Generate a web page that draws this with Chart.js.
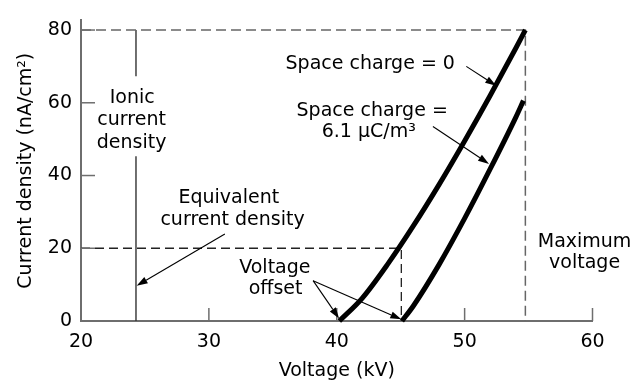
<!DOCTYPE html>
<html><head><meta charset="utf-8">
<script src="https://cdn.jsdelivr.net/npm/chart.js@4/dist/chart.umd.min.js"></script>
<style>html,body{margin:0;padding:0;background:#fff}</style>
</head><body>
<canvas id="c" width="638" height="382"></canvas>
<script>
// ---- data ----
const voltageTicks = [20, 30, 40, 50, 60];
const densityTicks = [0, 20, 40, 60, 80];
// Space charge = 0
const vNoCharge = [40.2, 42, 44, 46, 48, 50, 52, 54, 54.75];
const jNoCharge = [0, 6.3, 15.7, 26.2, 37.5, 49.5, 62.0, 75.0, 80];
// Space charge = 6.1 uC/m3
const vCharge = [45.1, 46, 48, 50, 52, 54, 54.6];
const jCharge = [0, 4.2, 15.5, 28.2, 41.8, 56.0, 60.6];
// reference levels
const maxVoltage = 54.75, maxDensity = 80;
const offsetVoltage = 45.05, equivDensity = 20;
const ionicVoltage = 24.3;
const ionicGap = [67.3, 45.3];
// annotation texts: [text, x (kV), baseline (nA/cm2)]
const labelTexts = [
  ['Space charge = 0', 42.62, 69.3],
  ['Space charge =', 42.77, 56.5],
  ['6.1 \u03bcC/m\u00b3', 42.5, 50.6],
  ['Ionic', 24.0, 60.05],
  ['current', 23.96, 53.8],
  ['density', 23.96, 47.5],
  ['Equivalent', 31.56, 32.5],
  ['current density', 31.85, 26.3],
  ['Voltage', 35.16, 13.3],
  ['offset', 35.22, 7.3],
  ['Maximum', 59.38, 20.4],
  ['voltage', 59.38, 14.7]
];
// arrows: [tailX, tailY, tipX, tipY] in data units
const arrowList = [
  [50.13, 70.0, 52.47, 64.7],
  [47.52, 53.5, 51.91, 43.2],
  [31.25, 23.9, 24.35, 9.7],
  [38.15, 11.1, 40.18, 0.7],
  [38.15, 11.1, 45.05, 0.45]
];

const FONT = '"DejaVu Sans", sans-serif';
const pts = (xs, ys) => xs.map((x, i) => ({x, y: ys[i]}));

const overlay = {
  id: 'overlay',
  afterDraw(chart) {
    const ctx = chart.ctx, xs = chart.scales.x, ys = chart.scales.y;
    ctx.save();
    // inward tick marks
    ctx.strokeStyle = '#6e6e6e'; ctx.lineWidth = 1.5;
    voltageTicks.slice(1).forEach(v => {
      const p = xs.getPixelForValue(v);
      ctx.beginPath(); ctx.moveTo(p, ys.bottom); ctx.lineTo(p, ys.bottom - 13); ctx.stroke();
    });
    densityTicks.slice(1).forEach(v => {
      const p = ys.getPixelForValue(v);
      ctx.beginPath(); ctx.moveTo(xs.left, p); ctx.lineTo(xs.left + 14, p); ctx.stroke();
    });
    // arrows
    ctx.strokeStyle = '#000'; ctx.fillStyle = '#000'; ctx.lineWidth = 1.1;
    arrowList.forEach(a => {
      const x0 = xs.getPixelForValue(a[0]), y0 = ys.getPixelForValue(a[1]);
      const x1 = xs.getPixelForValue(a[2]), y1 = ys.getPixelForValue(a[3]);
      const ang = Math.atan2(y1 - y0, x1 - x0), L = 11, W = 3.6;
      const bx = x1 - L * Math.cos(ang), by = y1 - L * Math.sin(ang);
      ctx.beginPath(); ctx.moveTo(x0, y0); ctx.lineTo(bx, by); ctx.stroke();
      ctx.beginPath();
      ctx.moveTo(x1, y1);
      ctx.lineTo(bx + W * Math.sin(ang), by - W * Math.cos(ang));
      ctx.lineTo(bx - W * Math.sin(ang), by + W * Math.cos(ang));
      ctx.closePath(); ctx.fill();
    });
    // texts
    ctx.font = '19px ' + FONT; ctx.textAlign = 'center'; ctx.textBaseline = 'alphabetic';
    labelTexts.forEach(t => {
      ctx.fillText(t[0], xs.getPixelForValue(t[1]), ys.getPixelForValue(t[2]));
    });
    ctx.restore();
  }
};

new Chart(document.getElementById('c'), {
  type: 'scatter',
  data: {
    datasets: [
      {data: pts(vNoCharge, jNoCharge), borderColor: '#000', borderWidth: 5, cubicInterpolationMode: 'monotone'},
      {data: pts(vCharge, jCharge), borderColor: '#000', borderWidth: 5, cubicInterpolationMode: 'monotone'},
      {data: [{x: voltageTicks[0], y: maxDensity}, {x: maxVoltage, y: maxDensity}, {x: maxVoltage, y: 0}],
       borderColor: '#666', borderWidth: 1.5, borderDash: [10, 5]},
      {data: [{x: voltageTicks[0], y: equivDensity}, {x: offsetVoltage, y: equivDensity}, {x: offsetVoltage, y: 0}],
       borderColor: '#222', borderWidth: 1.3, borderDash: [9, 5]},
      {data: [{x: ionicVoltage, y: maxDensity}, {x: ionicVoltage, y: ionicGap[0]}, {x: ionicVoltage, y: null},
              {x: ionicVoltage, y: ionicGap[1]}, {x: ionicVoltage, y: 0}],
       borderColor: '#333', borderWidth: 1.4, spanGaps: false}
    ].map(d => Object.assign({showLine: true, pointRadius: 0, fill: false, clip: false}, d))
  },
  options: {
    responsive: false, animation: false, devicePixelRatio: 1,
    layout: {padding: {left: 0, right: 45.5, top: 9, bottom: 0}},
    plugins: {legend: {display: false}, tooltip: {enabled: false}},
    scales: {
      x: {
        type: 'linear', min: 20, max: 60,
        afterBuildTicks: s => { s.ticks = voltageTicks.map(v => ({value: v})); },
        afterFit: s => { s.height = 61; },
        grid: {display: false, drawTicks: false},
        border: {display: true, color: '#6e6e6e', width: 2},
        ticks: {color: '#000', font: {family: FONT, size: 19}, padding: 10, maxRotation: 0},
        title: {display: true, text: 'Voltage (kV)', color: '#000', font: {family: FONT, size: 19}, padding: {top: 0, bottom: 0}}
      },
      y: {
        type: 'linear', min: 0, max: 82.65,
        afterBuildTicks: s => { s.ticks = densityTicks.map(v => ({value: v})); },
        afterFit: s => { s.width = 81; },
        grid: {display: false, drawTicks: false},
        border: {display: true, color: '#6e6e6e', width: 2},
        ticks: {color: '#000', font: {family: FONT, size: 19}, padding: 9},
        title: {display: true, text: 'Current density (nA/cm\u00b2)', color: '#000', font: {family: FONT, size: 19}, padding: {top: 15, bottom: 0}}
      }
    }
  },
  plugins: [overlay]
});
</script>
</body></html>
